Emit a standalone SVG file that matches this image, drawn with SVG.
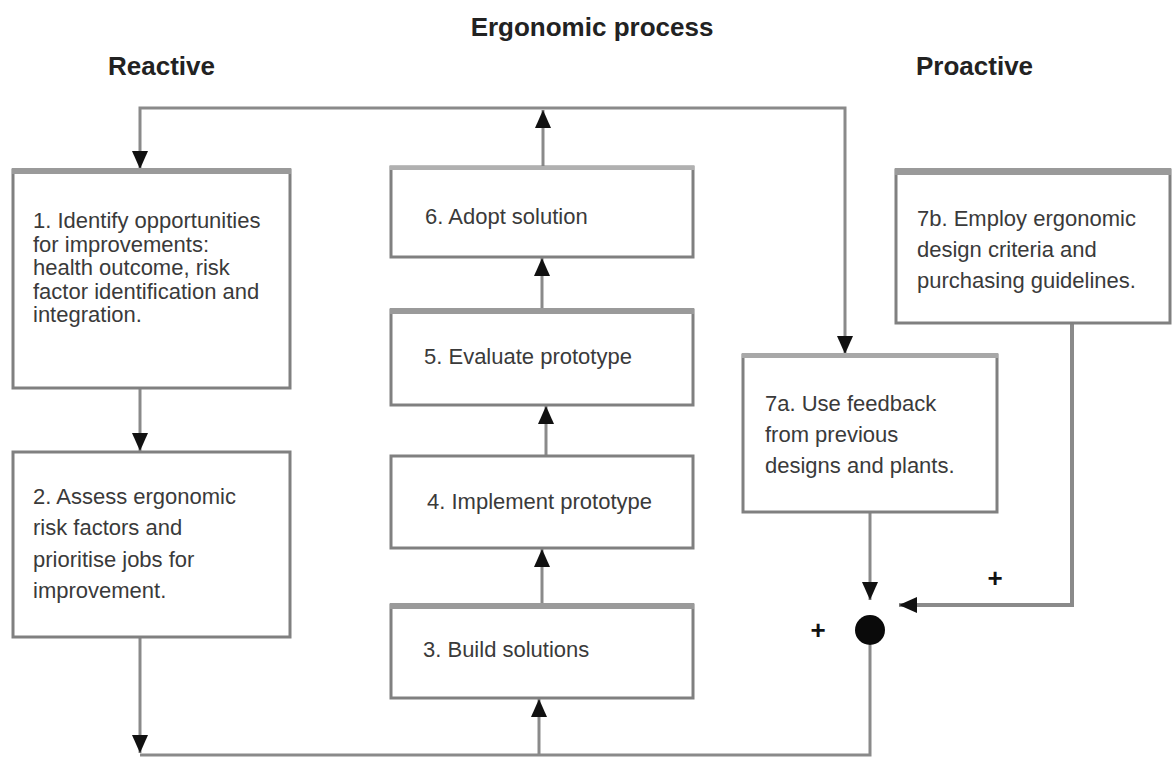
<svg xmlns="http://www.w3.org/2000/svg" width="1173" height="758" viewBox="0 0 1173 758">
<style>
  .box{fill:#fff;stroke:#808080;stroke-width:3}
  .band{fill:#9a9a9a}
  .t{font-family:"Liberation Sans",Arial,sans-serif;font-size:22px;fill:#3a3a3a}
  .h{font-family:"Liberation Sans",Arial,sans-serif;font-size:26px;font-weight:bold;fill:#222}
  .c{fill:none;stroke:#8a8a8a;stroke-width:3}
  .plus{font-family:"Liberation Sans",Arial,sans-serif;font-size:26px;font-weight:bold;fill:#111}
</style>
<defs>
  <marker id="ah" viewBox="0 0 18 16" refX="18" refY="8" markerWidth="18" markerHeight="16" orient="auto" markerUnits="userSpaceOnUse">
    <path d="M0,0 L18,8 L0,16 z" fill="#111"/>
  </marker>
</defs>
<rect width="1173" height="758" fill="#fff"/>
<g id="titles">
  <text class="h" x="592" y="36" text-anchor="middle">Ergonomic process</text>
  <text class="h" x="108" y="75">Reactive</text>
  <text class="h" x="916" y="75">Proactive</text>
</g>
<g id="connectors">
  <path class="c" d="M543,166 V110" marker-end="url(#ah)"/>
  <path class="c" d="M543,108 H140 V169" marker-end="url(#ah)"/>
  <path class="c" d="M543,108 H845 V354" marker-end="url(#ah)"/>
  <path class="c" d="M140,388 V451" marker-end="url(#ah)"/>
  <path class="c" d="M140,637 V753" marker-end="url(#ah)"/>
  <path class="c" d="M870,645 V755 H140"/>
  <path class="c" d="M539,755 V699" marker-end="url(#ah)"/>
  <path class="c" d="M542,605 V549" marker-end="url(#ah)"/>
  <path class="c" d="M546,456 V406" marker-end="url(#ah)"/>
  <path class="c" d="M542,310 V258" marker-end="url(#ah)"/>
  <path class="c" d="M870,512 V600" marker-end="url(#ah)"/>
  <path class="c" d="M1072,323 V605 H899" style="stroke-width:4" marker-end="url(#ah)"/>
</g>
<g id="n1">
  <rect class="box" x="13" y="170" width="277" height="218"/>
  <rect class="band" x="12" y="168" width="279" height="6"/>
  <text class="t" x="33" y="228">1. Identify opportunities</text>
  <text class="t" x="33" y="251.5">for improvements:</text>
  <text class="t" x="33" y="275">health outcome, risk</text>
  <text class="t" x="33" y="298.5">factor identification and</text>
  <text class="t" x="33" y="322">integration.</text>
</g>
<g id="n2">
  <rect class="box" x="13" y="452" width="277" height="185"/>
  <text class="t" x="33" y="504">2. Assess ergonomic</text>
  <text class="t" x="33" y="535">risk factors and</text>
  <text class="t" x="33" y="567">prioritise jobs for</text>
  <text class="t" x="33" y="598">improvement.</text>
</g>
<g id="n6">
  <rect class="box" x="391" y="167" width="302" height="90"/>
  <rect class="band" x="390" y="166" width="304" height="4" style="fill:#b0b0b0"/>
  <text class="t" x="425" y="224">6. Adopt solution</text>
</g>
<g id="n5">
  <rect class="box" x="391" y="310" width="302" height="95"/>
  <rect class="band" x="390" y="308" width="304" height="6"/>
  <text class="t" x="424" y="364">5. Evaluate prototype</text>
</g>
<g id="n4">
  <rect class="box" x="391" y="456" width="302" height="92"/>
  <text class="t" x="427" y="509">4. Implement prototype</text>
</g>
<g id="n3">
  <rect class="box" x="391" y="605" width="302" height="93"/>
  <rect class="band" x="390" y="603" width="304" height="6"/>
  <text class="t" x="423" y="657">3. Build solutions</text>
</g>
<g id="n7b">
  <rect class="box" x="896" y="170" width="274" height="153"/>
  <rect class="band" x="895" y="168" width="276" height="7"/>
  <text class="t" x="917" y="226">7b. Employ ergonomic</text>
  <text class="t" x="917" y="257">design criteria and</text>
  <text class="t" x="917" y="288">purchasing guidelines.</text>
</g>
<g id="n7a">
  <rect class="box" x="743" y="355" width="254" height="157"/>
  <rect class="band" x="742" y="353" width="256" height="5" style="fill:#a8a8a8"/>
  <text class="t" x="765" y="411">7a. Use feedback</text>
  <text class="t" x="765" y="442">from previous</text>
  <text class="t" x="765" y="473">designs and plants.</text>
</g>
<g id="sum">
  <circle cx="870" cy="630" r="15" fill="#0a0a0a"/>
  <text class="plus" x="995" y="587" text-anchor="middle">+</text>
  <text class="plus" x="818" y="639" text-anchor="middle">+</text>
</g>
</svg>
